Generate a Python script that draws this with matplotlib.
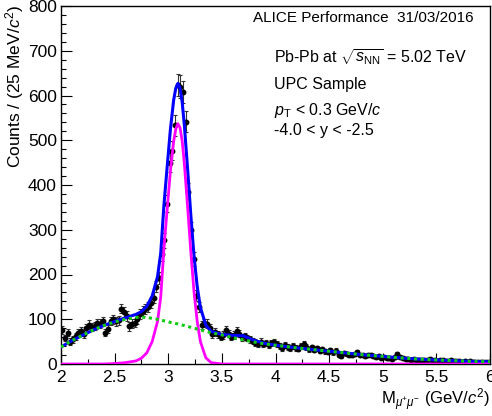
import numpy as np
import matplotlib
matplotlib.use('Agg')
import matplotlib.pyplot as plt
from matplotlib.ticker import MultipleLocator

plt.rcParams['font.family'] = ['Liberation Sans', 'DejaVu Sans']
plt.rcParams['mathtext.fontset'] = 'custom'
plt.rcParams['mathtext.rm'] = 'Liberation Sans'
plt.rcParams['mathtext.it'] = 'Liberation Sans:italic'
plt.rcParams['mathtext.bf'] = 'Liberation Sans:bold'

# dimuon invariant mass histogram, 25 MeV bins from 2 to 6 GeV/c2
mass_lo = 2.0
bin_width = 0.025
counts = [
    76, 58, 70, 50, 55, 62, 70, 74, 67, 80,
    88, 82, 85, 92, 90, 95, 70, 78, 96, 100,
    95, 98, 124, 116, 107, 84, 90, 92, 100, 112,
    118, 122, 128, 136, 148, 173, 192, 245, 276, 358,
    450, 477, 533, 624, 620, 608, 541, 385, 300, 234,
    152, 128, 87, 92, 90, 80, 67, 72, 66, 61,
    65, 76, 68, 61, 65, 74, 68, 60, 62, 58,
    55, 52, 48, 45, 50, 44, 47, 42, 46, 49,
    44, 40, 36, 42, 38, 35, 41, 36, 34, 40,
    45, 38, 33, 37, 32, 35, 30, 33, 28, 27,
    31, 26, 30, 20, 17, 24, 22, 19, 21, 23,
    27, 20, 19, 17, 21, 20, 18, 16, 17, 14,
    15, 13, 14, 12, 16, 22, 15, 13, 11, 12,
    10, 11, 9, 10, 8, 9, 8, 11, 9, 8,
    7, 9, 8, 7, 6, 8, 7, 6, 7, 5,
    6, 5, 6, 5, 4, 5, 4, 5, 4, 4,
]

# fit curves
curve_m = [2.0, 2.1, 2.2, 2.3, 2.4, 2.5, 2.6, 2.7, 2.75, 2.8, 2.85, 2.9,
           2.93, 2.96, 2.99, 3.02, 3.05, 3.07, 3.09, 3.11, 3.13, 3.15,
           3.18, 3.21, 3.24, 3.27, 3.3, 3.35, 3.4, 3.5, 3.6, 3.7, 3.8,
           3.9, 4.0, 4.2, 4.4, 4.6, 4.8, 5.0, 5.2, 5.4, 5.6, 5.8, 6.0]
background = [38, 52, 64, 76, 86, 94, 100, 104, 104.5, 104, 102, 100,
              98, 96.5, 95, 93, 91.5, 90.5, 89.5, 88, 87, 86,
              84, 82, 80, 78, 76, 73, 70, 65, 59, 54, 49,
              45, 42, 36, 31, 26, 21, 17, 13, 10, 8, 6, 5]
jpsi = [0, 0, 0, 0, 0, 1, 3, 7, 13, 25, 50, 95,
        150, 259, 346, 431, 497, 525, 537, 528, 498, 448,
        353, 252, 162, 95, 50, 14, 3, 0, 0, 0, 0,
        0, 0, 0, 0, 0, 0, 0, 0, 0, 0, 0, 0]
total = [38, 52, 64, 76, 86, 95, 103, 111, 117, 129, 152, 195,
         248, 356, 441, 524, 589, 616, 627, 616, 585, 534,
         437, 334, 242, 173, 126, 87, 73, 66, 64, 63, 53,
         46, 42, 36, 31, 26, 21, 17, 13, 10, 8, 6, 5]

counts = np.array(counts, dtype=float)
centers = mass_lo + bin_width * (np.arange(len(counts)) + 0.5)
errors = np.sqrt(counts)

fig = plt.figure(figsize=(4.92, 4.16), dpi=100)
ax = fig.add_axes([61/492, 52/416, 429/492, 358/416])

ax.errorbar(centers, counts, yerr=errors, fmt='o', color='black', ms=3.2,
            ecolor='#333333', elinewidth=0.8, capsize=1.2, capthick=0.8, zorder=2)
ax.plot(curve_m, total, color='#0000ff', lw=2.2, zorder=3)
ax.plot(curve_m, jpsi, color='#ff00ff', lw=2.0, zorder=3)
ax.plot(curve_m, background, color='#11cc11', lw=2.2, ls=(0, (1, 1.2)), zorder=4)

ax.set_xlim(2, 6)
ax.set_ylim(0, 800)
ax.xaxis.set_major_locator(MultipleLocator(0.5))
ax.xaxis.set_minor_locator(MultipleLocator(0.25))
ax.yaxis.set_major_locator(MultipleLocator(100))
ax.yaxis.set_minor_locator(MultipleLocator(20))
ax.set_xticks([2, 2.5, 3, 3.5, 4, 4.5, 5, 5.5, 6])
ax.set_xticklabels(['2', '2.5', '3', '3.5', '4', '4.5', '5', '5.5', '6'])
ax.tick_params(which='both', direction='in', top=False, right=False, labelsize=12.5)
ax.tick_params(which='major', length=7.7, width=0.8)
ax.tick_params(which='minor', length=3.8, width=0.8)
ax.tick_params(axis='x', pad=4)
ax.tick_params(axis='y', pad=3)
for s in ax.spines.values():
    s.set_linewidth(1.0)

fig.text(15/492, 1 - 5/416, 'Counts / (25 MeV/$c^{2}$)', rotation=90,
         ha='center', va='top', fontsize=12.5)
fig.text(490/492, 1 - 400/416, r'M$_{\mu^{+}\mu^{-}}$ (GeV/$c^{2}$)',
         ha='right', va='center', fontsize=12)

fig.text(253/492, 1 - 18/416, 'ALICE Performance  31/03/2016',
         ha='left', va='center', fontsize=11)
fig.text(274/492, 1 - 57/416, r'Pb-Pb at $\sqrt{s_{\rm NN}}$ = 5.02 TeV',
         ha='left', va='center', fontsize=11.5)
fig.text(274/492, 1 - 85/416, 'UPC Sample', ha='left', va='center', fontsize=11.5)
fig.text(274/492, 1 - 111/416, r'$p_{\rm T}$ < 0.3 GeV/$c$',
         ha='left', va='center', fontsize=11.5)
fig.text(274/492, 1 - 131/416, '-4.0 < y < -2.5', ha='left', va='center', fontsize=11.5)

plt.savefig('out.png', dpi=100)
